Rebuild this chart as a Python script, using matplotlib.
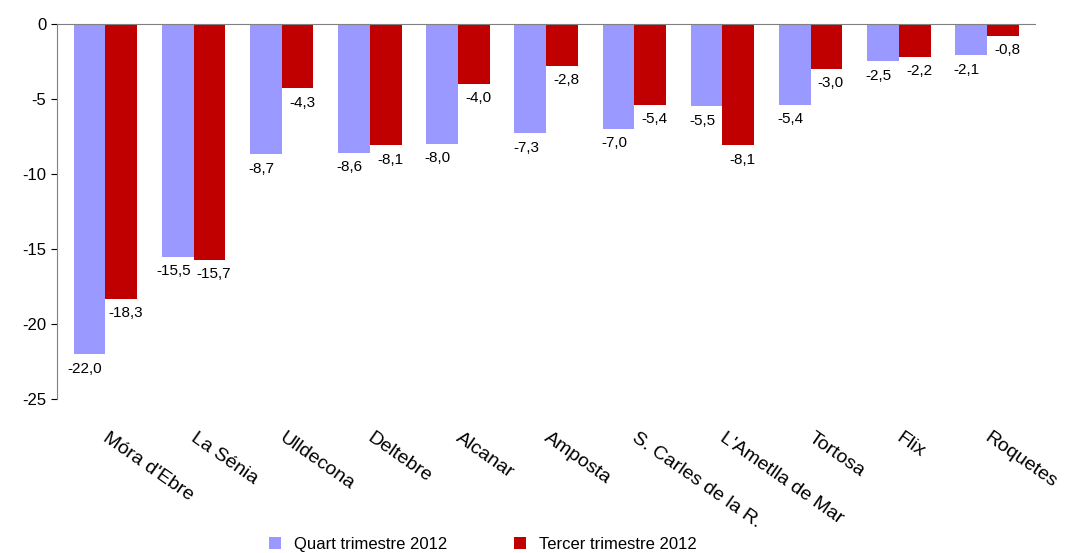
import matplotlib.pyplot as plt
import numpy as np

plt.rcParams['font.family'] = ['Liberation Sans', 'DejaVu Sans']

towns = ["Móra d'Ebre", "La Sénia", "Ulldecona", "Deltebre", "Alcanar", "Amposta",
         "S. Carles de la R.", "L'Ametlla de Mar", "Tortosa", "Flix", "Roquetes"]
quart = [-22.0, -15.5, -8.7, -8.6, -8.0, -7.3, -7.0, -5.5, -5.4, -2.5, -2.1]
tercer = [-18.3, -15.7, -4.3, -8.1, -4.0, -2.8, -5.4, -8.1, -3.0, -2.2, -0.8]

fig = plt.figure(figsize=(10.73, 5.53), dpi=100)
ax = fig.add_axes([0.053, 0.278, 0.912, 0.679])

x = np.arange(len(towns))
w = 0.36
ax.bar(x - w / 2, quart, w, color='#9999FF', label='Quart trimestre 2012')
ax.bar(x + w / 2, tercer, w, color='#C00000', label='Tercer trimestre 2012')

def fmt(v):
    return f"{v:.1f}".replace('.', ',')

for i in range(len(towns)):
    ax.text(x[i] - w / 2 - 0.05, quart[i] - 0.5, fmt(quart[i]), ha='center', va='top', fontsize=11)
    ax.text(x[i] + w / 2 + 0.05, tercer[i] - 0.5, fmt(tercer[i]), ha='center', va='top', fontsize=11)

ax.set_xlim(-0.55, len(towns) - 0.45)
ax.set_ylim(-25, 0)
ax.set_yticks([0, -5, -10, -15, -20, -25])
ax.set_yticklabels(['0', '-5', '-10', '-15', '-20', '-25'], fontsize=12)
ax.tick_params(axis='y', direction='out', length=4)
ax.set_xticks([])
for s in ['right', 'bottom']:
    ax.spines[s].set_visible(False)
ax.spines['top'].set_color('#808080')
ax.spines['left'].set_color('#808080')

for i, t in enumerate(towns):
    ax.text(x[i] + 0.05, -27.0, t, rotation=-35, ha='left', va='top',
            rotation_mode='anchor', fontsize=14)

fig.legend(loc='lower center', ncol=2, frameon=False, fontsize=12,
           bbox_to_anchor=(0.45, -0.025), columnspacing=4, handlelength=0.7)

fig.savefig('out.png', dpi=100)
